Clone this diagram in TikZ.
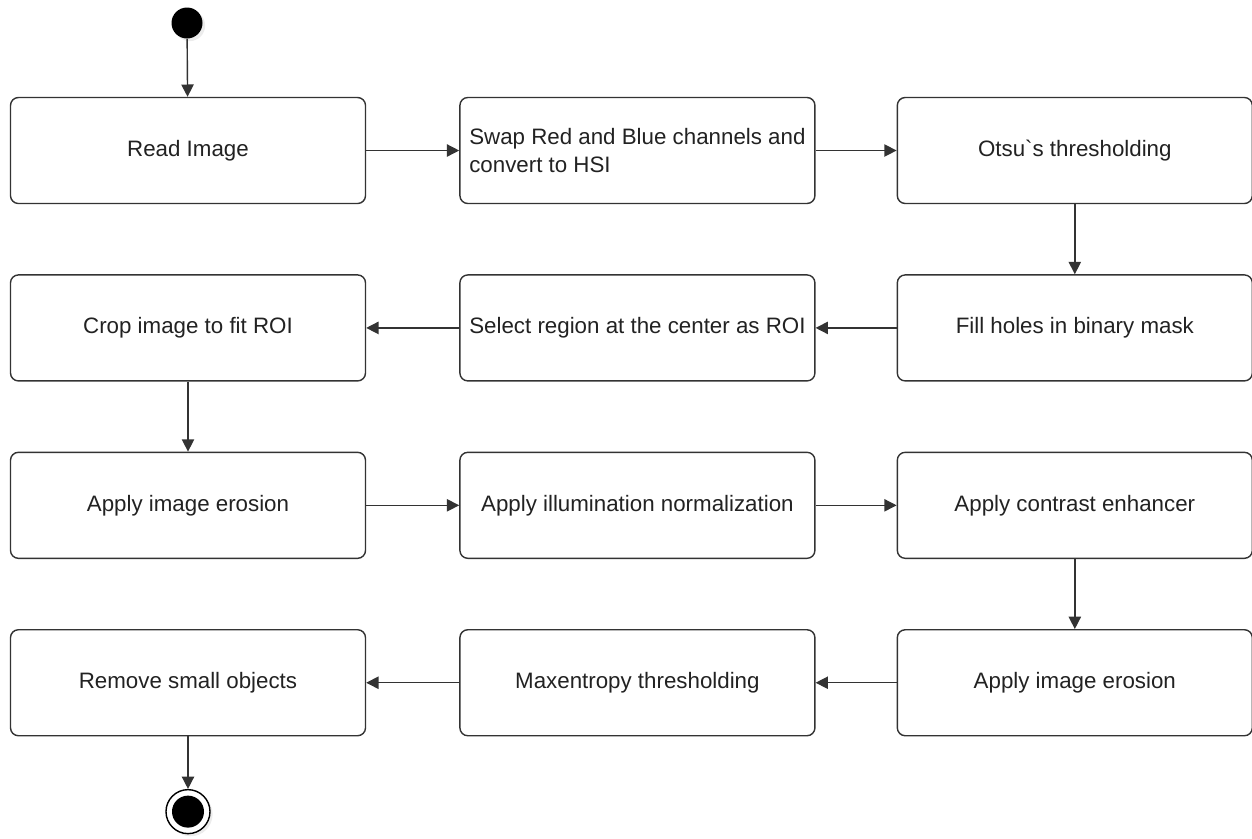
\documentclass[tikz,border=0pt]{standalone}
\usepackage{fontspec}
\setmainfont{Liberation Sans}
\usetikzlibrary{arrows.meta,positioning,shadows}
\definecolor{Ink}{HTML}{222222}
\definecolor{Edge}{HTML}{333333}

\begin{document}
\begin{tikzpicture}[node distance=1.4cm,
  every node/.style={font=\fontsize{12.7}{15.9}\selectfont, text=Ink},
  stepbox/.style={draw=Edge, line width=0.8pt, rounded corners=4.5pt, fill=white,
    minimum width=7.1cm, minimum height=2.12cm, align=left},
  flow/.style={draw=Edge, line width=0.8pt, -{Triangle[length=7pt,width=7pt]}}]
  \useasboundingbox (0,0) rectangle (25.04,-16.76);
  % start and first row
  \node[circle,fill=black,minimum size=0.62cm,inner sep=0pt,
    drop shadow={opacity=0.15,shadow xshift=1.5pt,shadow yshift=-1.5pt}] (start) at (3.74,-0.46) {};
  \node[stepbox] (read) at (3.76,-3.01) {Read Image};
  \node[stepbox,right=1.86cm of read] (swap) {Swap Red and Blue channels and\\convert to HSI};
  \node[stepbox,right=1.62cm of swap] (otsu) {Otsu\textasciigrave s thresholding};
  % second row
  \node[stepbox,below=of otsu] (fill) {Fill holes in binary mask};
  \node[stepbox,below=of swap] (select) {Select region at the center as ROI};
  \node[stepbox,below=of read] (crop) {Crop image to fit ROI};
  % third row
  \node[stepbox,below=of crop] (erodeA) {Apply image erosion};
  \node[stepbox,below=of select] (illum) {Apply illumination normalization};
  \node[stepbox,below=of fill] (contrast) {Apply contrast enhancer};
  % fourth row
  \node[stepbox,below=of contrast] (erodeB) {Apply image erosion};
  \node[stepbox,below=of illum] (maxent) {Maxentropy thresholding};
  \node[stepbox,below=of erodeA] (remove) {Remove small objects};
  % end
  \node[circle,draw=black,line width=0.8pt,fill=white,minimum size=0.88cm,inner sep=0pt,
    drop shadow={opacity=0.15,shadow xshift=1.5pt,shadow yshift=-1.5pt},
    below=1.05cm of remove] (end) {};
  \node[circle,fill=black,minimum size=0.64cm,inner sep=0pt] (endin) at (end) {};

  \draw[flow] (start) -- (read);
  \draw[flow] (read) -- (swap);
  \draw[flow] (swap) -- (otsu);
  \draw[flow] (otsu) -- (fill);
  \draw[flow] (fill) -- (select);
  \draw[flow] (select) -- (crop);
  \draw[flow] (crop) -- (erodeA);
  \draw[flow] (erodeA) -- (illum);
  \draw[flow] (illum) -- (contrast);
  \draw[flow] (contrast) -- (erodeB);
  \draw[flow] (erodeB) -- (maxent);
  \draw[flow] (maxent) -- (remove);
  \draw[flow] (remove) -- (end);
\end{tikzpicture}
\end{document}
